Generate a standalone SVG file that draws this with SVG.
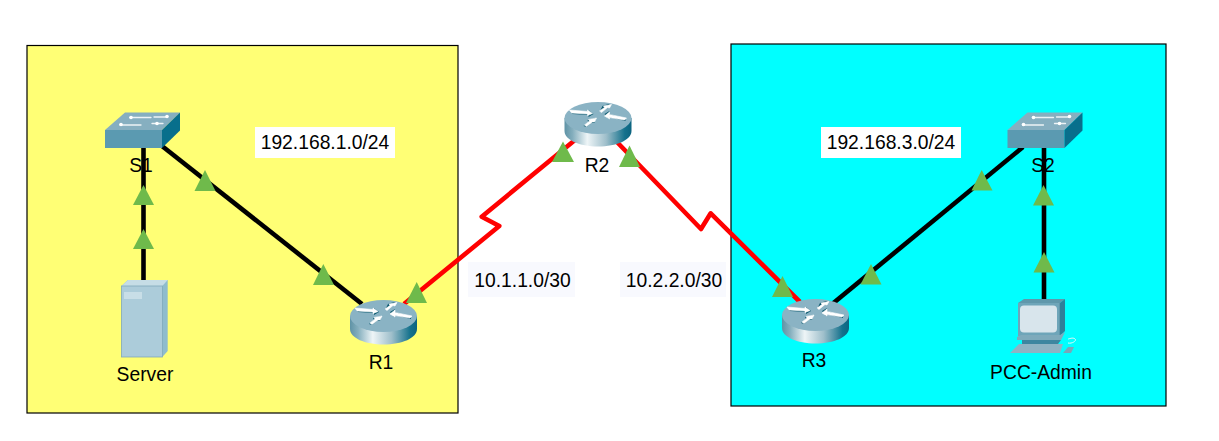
<svg xmlns="http://www.w3.org/2000/svg" width="1219" height="441" viewBox="0 0 1219 441">
<style>
text{font-family:"Liberation Sans",Arial,sans-serif;fill:#000;font-size:19.300px;text-anchor:middle}
.area{stroke:#000;stroke-width:1.2}
.k{fill:none;stroke:#000;stroke-width:4.600}
.r{fill:none;stroke:#f00;stroke-width:4.600;stroke-linejoin:round}
.tri{fill:#6fba4b}
.arw{fill:#fff;stroke:#fff;stroke-width:.6;stroke-linejoin:round}
.shd{fill:#0d5a70}
.sl{fill:none;stroke:#fff;stroke-width:1.300;stroke-linecap:round;opacity:.85}
</style>
<defs>
<linearGradient id="rb" x1="0" x2="1" y1="0" y2="0">
<stop offset="0" stop-color="#5f93a6"/><stop offset=".12" stop-color="#84aebd"/><stop offset=".34" stop-color="#eef5f7"/><stop offset=".62" stop-color="#9fbfcb"/><stop offset=".9" stop-color="#14718c"/><stop offset="1" stop-color="#0c6480"/>
</linearGradient>
<g id="router">
<path d="M0 16V29C0 38 15 44.500 33.500 44.500S67 38 67 29V16Z" fill="url(#rb)"/>
<ellipse cx="33.500" cy="16" rx="33.500" ry="16" fill="#8ab3c4"/>
<path class="shd" d="M6 10L24 10L24 8L29 12L24 15L24 13L8 12ZM35 10L44 4L46 3L44 2L38 4ZM40 12L45 9L44 12L61 17L61 19L44 15L44 17ZM19 24L24 20L23 18L31 16L30 21L27 21L22 25Z"/>
<path class="arw" d="M5 8L23 9.500L23 8L28 11.500L23 13.500L23 12L7 11ZM35 9L40 5.500L39 4L47 2.500L45 6L43 5.500L37 10.500ZM40 14L45 10L45 12.500L62 16L60 18L45 15.500L45 17ZM20 23L25 19L24 17.500L32 16L30 20L28 20L22 24.500Z"/>
</g>
<g id="switch">
<path d="M0 17.500L20 0H75L57 17.500Z" fill="#86afc0"/>
<path d="M0 17.500H57V35.500H0Z" fill="#5b9ab1"/>
<path d="M57 17.500L75 0V18L57 35.500Z" fill="#086f8c"/>
<path class="sl" d="M25 5H46M15 12.500H36M47 11H58M62 4.500H49"/>
<circle cx="26" cy="5" r="1.800" fill="#fff"/><circle cx="16" cy="12" r="1.800" fill="#fff"/><circle cx="62" cy="4" r="1.800" fill="#fff"/><circle cx="52" cy="11" r="1.800" fill="#fff"/>
</g>
</defs>
<rect width="1219" height="441" fill="#fff"/>
<rect class="area" x="27" y="45.500" width="431" height="367.500" fill="#ffff75"/>
<rect class="area" x="731" y="44" width="435" height="362" fill="#0ff"/>
<g id="connectors">
<path class="k" d="M143.500 147V280"/>
<path class="k" d="M162 146L362 304"/>
<path class="r" d="M575 140L481.700 216.700L499.300 226L404 304"/>
<path class="r" d="M616 141L701 229L710.700 213.300L800 302"/>
<path class="k" d="M831 305L1023 147"/>
<path class="k" d="M1044 147V300"/>
</g>
<g id="label-lan1"><rect x="255" y="127" width="140" height="31" fill="#fff"/><text x="325" y="149">192.168.1.0/24</text></g>
<g id="label-lan3"><rect x="821" y="127" width="140" height="31" fill="#fff"/><text x="891" y="149">192.168.3.0/24</text></g>
<g id="label-wan1"><rect x="468" y="262" width="107" height="35" fill="#f8f9fe"/><text x="522.500" y="287">10.1.1.0/30</text></g>
<g id="label-wan2"><rect x="620" y="262" width="106" height="35" fill="#f8f9fe"/><text x="674" y="287">10.2.2.0/30</text></g>
<g id="S1"><use href="#switch" x="105" y="112.500"/><text x="141" y="172">S1</text></g>
<g id="S2"><use href="#switch" x="1007.500" y="112.500"/><text x="1043" y="172">S2</text></g>
<g id="Server">
<path d="M121.500 286L128 280H167.700V351L162.300 357Z" fill="#8fbccd"/>
<path d="M121.500 286L128 280H167.700L162.300 286Z" fill="#c6dde6"/>
<rect x="121.500" y="286" width="41" height="71" fill="#acccda" stroke="#7fa9ba" stroke-width=".8"/>
<rect x="124" y="292" width="18" height="7" fill="#c8dee7"/>
<text x="145" y="381">Server</text>
</g>
<g id="R1"><use href="#router" x="350" y="300"/><text x="381" y="369">R1</text></g>
<g id="R2"><use href="#router" x="564.500" y="102"/><text x="597" y="172">R2</text></g>
<g id="R3"><use href="#router" x="782" y="299"/><text x="814" y="367">R3</text></g>
<g id="PCC-Admin">
<path d="M1018 303L1024 299H1065L1060 303V336H1018Z" fill="#5f97ab"/>
<path d="M1060 303L1065 299V331L1060 336Z" fill="#2f7f99"/>
<rect x="1018" y="303" width="41" height="33" fill="#6ea5b9"/>
<rect x="1020" y="305.500" width="37" height="27" rx="4" fill="#d8e5ec"/>
<path d="M1017 337L1021 335H1060L1065 332L1061 340H1022L1017 340Z" fill="#7eaabb"/>
<path d="M1022 340H1061L1058 344H1022Z" fill="#3d86a0"/>
<path d="M1010 353L1019 344H1063L1061 350L1060 353Z" fill="#8fb3c3"/>
<path d="M1063 353L1068 347H1074L1071 353Z" fill="#7ba6b8"/>
<path d="M1068 343C1073 344 1077 340 1075 339C1073 337 1069 339 1068 339" fill="none" stroke="#e8f8fa" stroke-width="1"/>
<text x="1041" y="378.700">PCC-Admin</text>
</g>
<g id="link-lights">
<path class="tri" d="M143.500 185L133 205H154Z"/>
<path class="tri" d="M143.500 229L133 249H154Z"/>
<path class="tri" d="M205 170L194.500 191H215.500Z"/>
<path class="tri" d="M323.300 264L313 285H334Z"/>
<path class="tri" d="M416.700 282L406 303H427Z"/>
<path class="tri" d="M563 141.500L552 162H574Z"/>
<path class="tri" d="M629.500 145.500L619 167H640Z"/>
<path class="tri" d="M782.500 276L772 297H793Z"/>
<path class="tri" d="M871 264L860.500 284.500H881.500Z"/>
<path class="tri" d="M981.700 170L971.500 190.500H992.500Z"/>
<path class="tri" d="M1043.500 185L1033 205.500H1054Z"/>
<path class="tri" d="M1044 252L1033.500 272.500H1054.500Z"/>
</g>
</svg>
